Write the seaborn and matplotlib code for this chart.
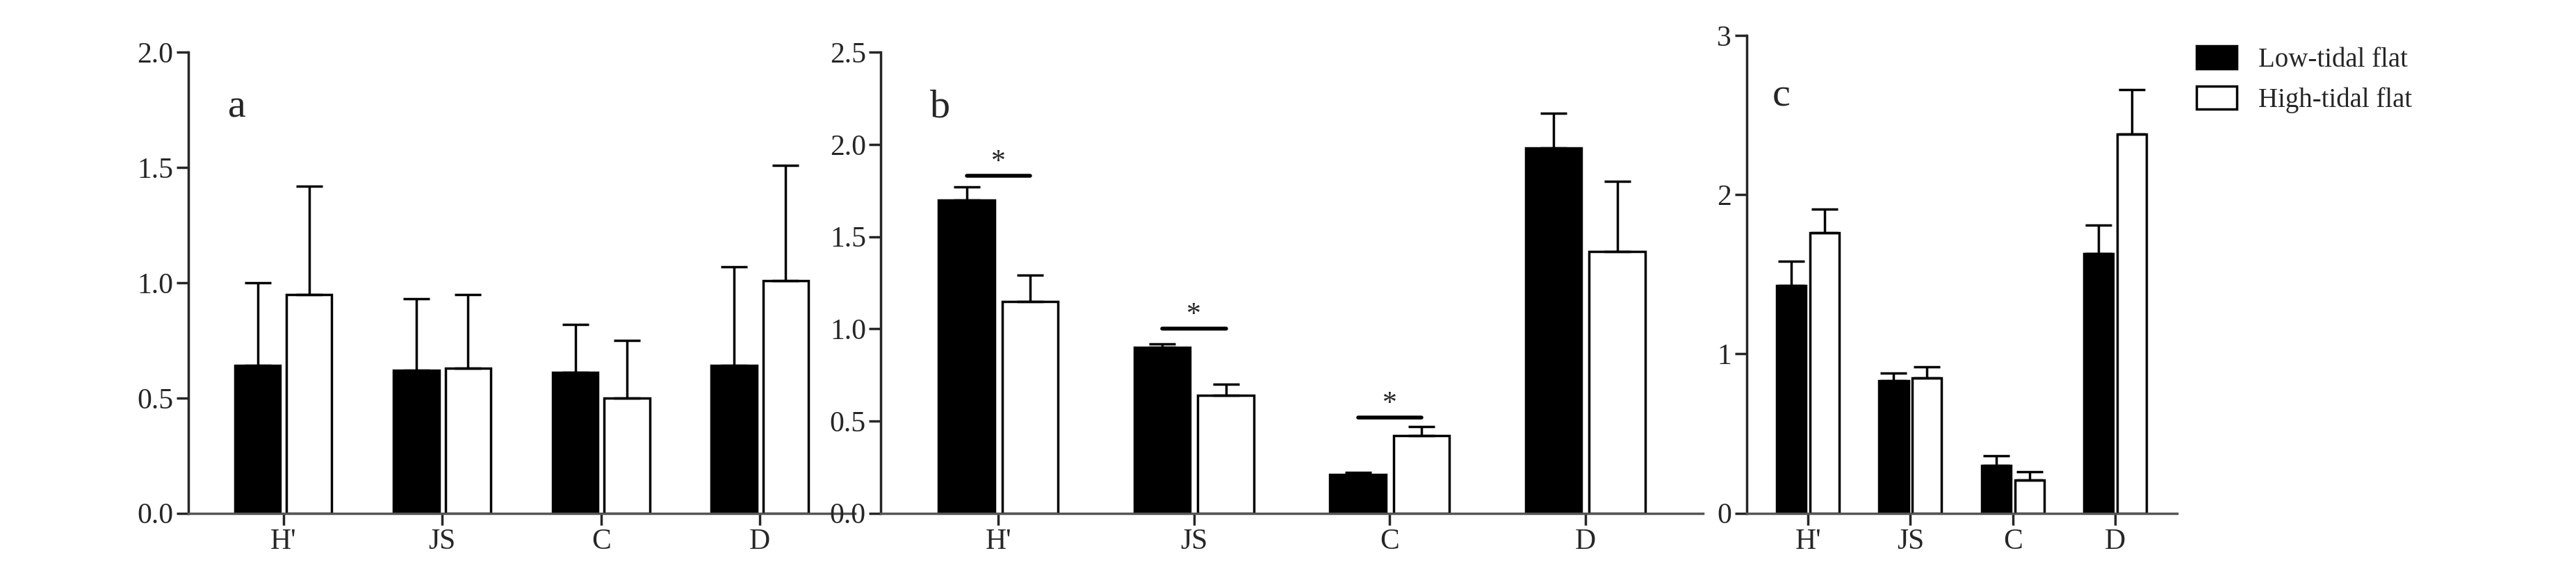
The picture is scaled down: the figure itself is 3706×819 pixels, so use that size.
import matplotlib
matplotlib.use("Agg")
import matplotlib.pyplot as plt
import seaborn as sns
import pandas as pd
import numpy as np

categories = ["H'", "JS", "C", "D"]
groups = ["Low-tidal flat", "High-tidal flat"]
a_low = [0.64, 0.62, 0.61, 0.64]
a_low_err = [0.36, 0.31, 0.21, 0.43]
a_high = [0.95, 0.63, 0.50, 1.01]
a_high_err = [0.47, 0.32, 0.25, 0.50]
b_low = [1.70, 0.90, 0.21, 1.98]
b_low_err = [0.07, 0.02, 0.01, 0.19]
b_high = [1.15, 0.64, 0.42, 1.42]
b_high_err = [0.14, 0.06, 0.05, 0.38]
c_low = [1.43, 0.83, 0.30, 1.63]
c_low_err = [0.15, 0.05, 0.06, 0.18]
c_high = [1.76, 0.85, 0.21, 2.38]
c_high_err = [0.15, 0.07, 0.05, 0.28]
sig_b = [1, 1, 1, 0]
sig_b_y = [1.83, 1.00, 0.52]

sns.set_theme(style="ticks")
plt.rcParams['font.family'] = ['Liberation Serif', 'DejaVu Serif']

fig = plt.figure(figsize=(37.06, 8.19), dpi=100)
panels = [
    ("a", a_low, a_low_err, a_high, a_high_err, (0, 2.0), [0, 0.5, 1.0, 1.5, 2.0], "{:.1f}", [0.073, 0.098, 0.259, 0.81]),
    ("b", b_low, b_low_err, b_high, b_high_err, (0, 2.5), [0, 0.5, 1.0, 1.5, 2.0, 2.5], "{:.1f}", [0.342, 0.098, 0.319, 0.81]),
    ("c", c_low, c_low_err, c_high, c_high_err, (0, 3), [0, 1, 2, 3], "{:d}", [0.678, 0.098, 0.167, 0.84]),
]
for name, lo, loe, hi, hie, ylim, yt, fmt, pos in panels:
    ax = fig.add_axes(pos)
    df = pd.DataFrame({"cat": categories * 2, "grp": [groups[0]] * 4 + [groups[1]] * 4,
                       "val": lo + hi, "err": loe + hie})
    sns.barplot(data=df, x="cat", y="val", hue="grp", palette=["black", "white"],
                edgecolor="black", linewidth=2.5, width=0.65, gap=0.12, errorbar=None, ax=ax,
                legend=(name == "c"))
    bar_conts = list(ax.containers)[:2]
    for cont, vals, errs in zip(bar_conts, [lo, hi], [loe, hie]):
        xs = [p.get_x() + p.get_width() / 2 for p in cont.patches]
        ax.errorbar(xs, vals, yerr=[np.zeros(4), errs], fmt="none", ecolor="black",
                    elinewidth=2.5, capsize=14, capthick=2.5)
    if name == "b":
        lc, hc = bar_conts
        for i, s in enumerate(sig_b):
            if s:
                x0 = lc.patches[i].get_x() + lc.patches[i].get_width() / 2
                x1 = hc.patches[i].get_x() + hc.patches[i].get_width() / 2
                ax.plot([x0, x1], [sig_b_y[i], sig_b_y[i]], color="black", lw=4)
                ax.text((x0 + x1) / 2, sig_b_y[i], "*", ha="center", va="bottom", fontsize=30)
    ax.set_ylim(*ylim)
    ax.set_yticks(yt)
    ax.set_yticklabels([str(int(v)) if fmt == "{:d}" else fmt.format(v) for v in yt])
    ax.set_xlim(-0.6, 3.6)
    ax.set_xlabel("")
    ax.set_ylabel("")
    sns.despine(ax=ax)
    ax.spines["left"].set_linewidth(2.5)
    ax.spines["bottom"].set_linewidth(2.5)
    ax.spines["bottom"].set_color("#555555")
    ax.tick_params(axis="both", labelsize=30, width=2.5, length=12, direction="out")
    ax.text(0.06, 0.92 if name != "c" else 0.91, name, transform=ax.transAxes, fontsize=42, va="top")
    if name == "c":
        leg = ax.legend(loc="upper left", bbox_to_anchor=(1.02, 1.0), frameon=False,
                        fontsize=28, handlelength=1.5, handleheight=0.9, borderaxespad=0)
        for h in leg.legend_handles:
            h.set_edgecolor("black")
            h.set_linewidth(2.5)

fig.savefig("out.png", dpi=100)
